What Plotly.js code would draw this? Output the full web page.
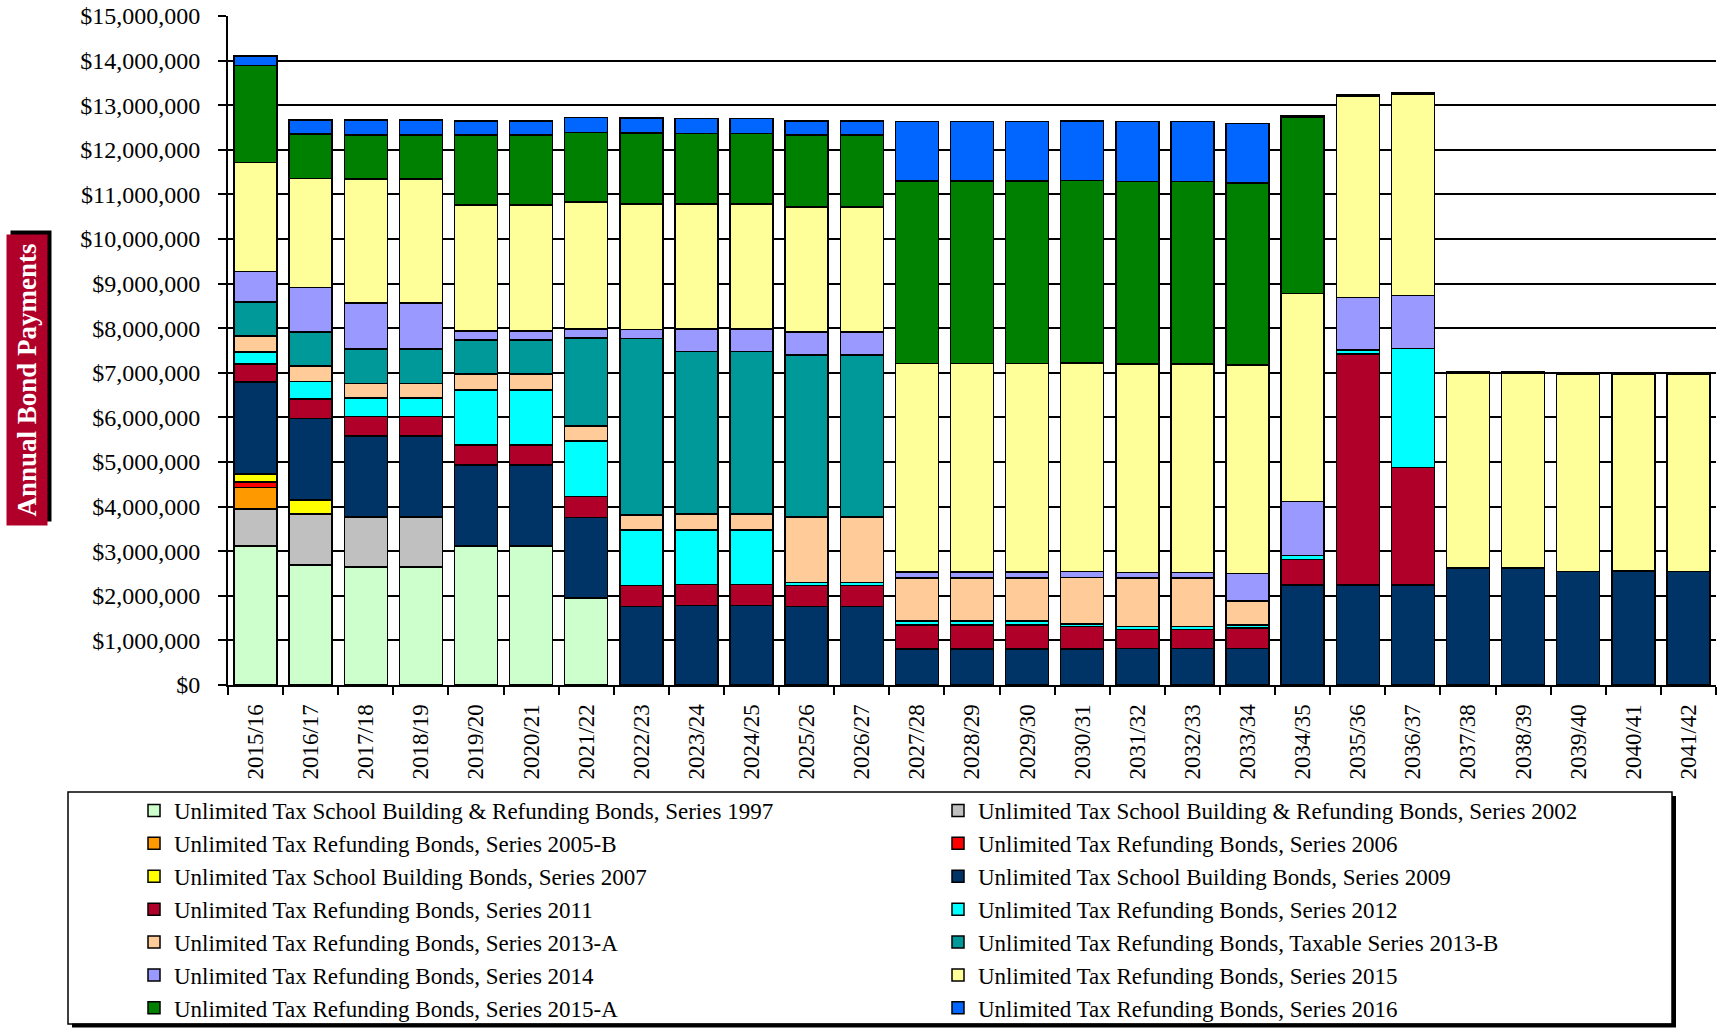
<!DOCTYPE html>
<html>
<head>
<meta charset="utf-8">
<script src="https://cdn.plot.ly/plotly-3.0.1.min.js"></script>
<style>
  html, body { margin: 0; padding: 0; background: #ffffff; }
  #chart { width: 1720px; height: 1028px; }
</style>
</head>
<body>
<div id="chart"></div>
<script>
const categories = ['2015/16','2016/17','2017/18','2018/19','2019/20','2020/21','2021/22','2022/23','2023/24','2024/25',
  '2025/26','2026/27','2027/28','2028/29','2029/30','2030/31','2031/32','2032/33','2033/34','2034/35',
  '2035/36','2036/37','2037/38','2038/39','2039/40','2040/41','2041/42'];

const seriesNames = [
  'Unlimited Tax School Building & Refunding Bonds, Series 1997',
  'Unlimited Tax School Building & Refunding Bonds, Series 2002',
  'Unlimited Tax Refunding Bonds, Series 2005-B',
  'Unlimited Tax Refunding Bonds, Series 2006',
  'Unlimited Tax School Building Bonds, Series 2007',
  'Unlimited Tax School Building Bonds, Series 2009',
  'Unlimited Tax Refunding Bonds, Series 2011',
  'Unlimited Tax Refunding Bonds, Series 2012',
  'Unlimited Tax Refunding Bonds, Series 2013-A',
  'Unlimited Tax Refunding Bonds, Taxable Series 2013-B',
  'Unlimited Tax Refunding Bonds, Series 2014',
  'Unlimited Tax Refunding Bonds, Series 2015',
  'Unlimited Tax Refunding Bonds, Series 2015-A',
  'Unlimited Tax Refunding Bonds, Series 2016'
];

const s1997  = [3120000,2690000,2650000,2650000,3120000,3120000,1950000,0,0,0,0,0,0,0,0,0,0,0,0,0,0,0,0,0,0,0,0];
const s2002  = [830000,1140000,1120000,1120000,0,0,0,0,0,0,0,0,0,0,0,0,0,0,0,0,0,0,0,0,0,0,0];
const s2005B = [480000,0,0,0,0,0,0,0,0,0,0,0,0,0,0,0,0,0,0,0,0,0,0,0,0,0,0];
const s2006  = [120000,0,0,0,0,0,0,0,0,0,0,0,0,0,0,0,0,0,0,0,0,0,0,0,0,0,0];
const s2007  = [180000,320000,0,0,0,0,0,0,0,0,0,0,0,0,0,0,0,0,0,0,0,0,0,0,0,0,0];
const s2009  = [2060000,1830000,1810000,1810000,1810000,1810000,1810000,1760000,1780000,1780000,1760000,1760000,
  810000,810000,810000,810000,820000,820000,820000,2240000,2240000,2240000,2620000,2620000,2550000,2560000,2550000];
const s2011  = [410000,430000,440000,440000,450000,450000,470000,470000,470000,470000,470000,470000,
  540000,540000,540000,500000,420000,420000,460000,570000,5180000,2640000,0,0,0,0,0];
const s2012  = [270000,400000,410000,410000,1230000,1230000,1240000,1240000,1230000,1230000,70000,70000,
  90000,90000,90000,60000,70000,70000,70000,90000,90000,2670000,0,0,0,0,0];
const s2013A = [350000,340000,330000,330000,360000,360000,340000,340000,350000,350000,1470000,1470000,
  960000,960000,960000,1040000,1090000,1090000,530000,0,0,0,0,0,0,0,0];
const s2013B = [770000,770000,770000,770000,770000,770000,1970000,3960000,3650000,3650000,3630000,3630000,
  0,0,0,0,0,0,0,0,0,0,0,0,0,0,0];
const s2014  = [680000,990000,1030000,1030000,200000,200000,200000,200000,500000,500000,510000,510000,
  130000,130000,130000,130000,120000,120000,620000,1210000,1180000,1180000,0,0,0,0,0];
const s2015  = [2450000,2450000,2790000,2790000,2820000,2820000,2850000,2820000,2810000,2810000,2810000,2810000,
  4680000,4680000,4680000,4680000,4680000,4680000,4680000,4670000,4520000,4510000,4380000,4380000,4410000,4400000,4410000];
const s2015A = [2170000,990000,980000,980000,1570000,1570000,1560000,1590000,1580000,1580000,1610000,1610000,
  4090000,4090000,4090000,4090000,4090000,4090000,4080000,3940000,0,0,0,0,0,0,0];
const s2016  = [210000,320000,340000,340000,320000,320000,330000,330000,330000,330000,320000,320000,
  1340000,1340000,1340000,1340000,1340000,1340000,1330000,40000,30000,30000,30000,30000,30000,30000,30000];

const seriesValues = [s1997,s2002,s2005B,s2006,s2007,s2009,s2011,s2012,s2013A,s2013B,s2014,s2015,s2015A,s2016];
const seriesColors = ['#CCFFCC','#C0C0C0','#FF9900','#FF0000','#FFFF00','#003366','#B0002A',
  '#00FFFF','#FFCC99','#009999','#9999FF','#FFFF99','#008000','#0066FF'];

const FONT = '"Liberation Serif", "Times New Roman", serif';

// layout geometry (pixels)
const W = 1720, H = 1028;
const ML = 228, MR = 4, MT = 16, MB = 343;
const PW = W - ML - MR, PH = H - MT - MB;
const px = x => (x - ML) / PW;
const py = y => (H - MB - y) / PH;

const traces = seriesValues.map((vals, i) => ({
  type: 'bar',
  name: seriesNames[i],
  x: categories,
  y: vals,
  marker: { color: seriesColors[i], line: { color: '#000000', width: 1.5 } },
  hoverinfo: 'x+y+name'
}));

const layout = {
  width: W, height: H,
  margin: { l: ML, r: MR, t: MT, b: MB, autoexpand: false },
  paper_bgcolor: '#ffffff',
  plot_bgcolor: '#ffffff',
  barmode: 'stack',
  bargap: 0.22,
  font: { family: FONT, color: '#000000', size: 22 },
  xaxis: {
    type: 'category',
    tickangle: -90,
    tickfont: { family: FONT, size: 23, color: '#000000' },
    ticks: 'outside', tickson: 'boundaries', ticklen: 8, tickwidth: 1.5, tickcolor: '#000000',
    ticklabelstandoff: 8,
    showline: true, linecolor: '#000000', linewidth: 2,
    showgrid: false, automargin: false, fixedrange: true
  },
  yaxis: {
    range: [0, 15000000],
    dtick: 1000000,
    tickprefix: '$',
    tickformat: ',d',
    tickfont: { family: FONT, size: 24, color: '#000000' },
    ticks: 'outside', ticklen: 8, tickwidth: 1.5, tickcolor: '#000000',
    ticklabelstandoff: 13,
    showline: true, linecolor: '#000000', linewidth: 2,
    showgrid: true, gridcolor: '#000000', gridwidth: 1.5,
    zeroline: false, automargin: false, fixedrange: true
  },
  showlegend: true,
  legend: {
    orientation: 'h',
    entrywidth: 759, entrywidthmode: 'pixels',
    x: px(134), xanchor: 'left',
    y: py(789), yanchor: 'top',
    font: { family: FONT, size: 23, color: '#000000' },
    bgcolor: 'rgba(0,0,0,0)', borderwidth: 0,
    traceorder: 'normal'
  },
  shapes: [
    { type: 'rect', xref: 'paper', yref: 'paper', x0: px(68), x1: px(1672), y0: py(792), y1: py(1024),
      line: { color: '#000000', width: 1.5 }, fillcolor: 'rgba(0,0,0,0)', layer: 'below' },
    { type: 'line', xref: 'paper', yref: 'paper', x0: px(1674), x1: px(1674), y0: py(796), y1: py(1027),
      line: { color: '#000000', width: 4 } },
    { type: 'line', xref: 'paper', yref: 'paper', x0: px(72), x1: px(1676), y0: py(1025.5), y1: py(1025.5),
      line: { color: '#000000', width: 4 } }
  ],
  annotations: [
    { text: 'Annual Bond Payments', xref: 'paper', yref: 'paper', x: px(27), y: py(380),
      xanchor: 'center', yanchor: 'middle', textangle: -90, showarrow: false,
      xshift: 4, yshift: 4, width: 288, height: 38, bgcolor: '#000000',
      font: { family: FONT, size: 27, color: '#000000', weight: 'bold' } },
    { text: 'Annual Bond Payments', xref: 'paper', yref: 'paper', x: px(27), y: py(380),
      xanchor: 'center', yanchor: 'middle', textangle: -90, showarrow: false,
      width: 288, height: 38, bgcolor: '#B0002A',
      font: { family: FONT, size: 27, color: '#ffffff', weight: 'bold' } }
  ]
};

Plotly.newPlot('chart', traces, layout, { displayModeBar: false, responsive: false, staticPlot: false });
</script>
</body>
</html>
